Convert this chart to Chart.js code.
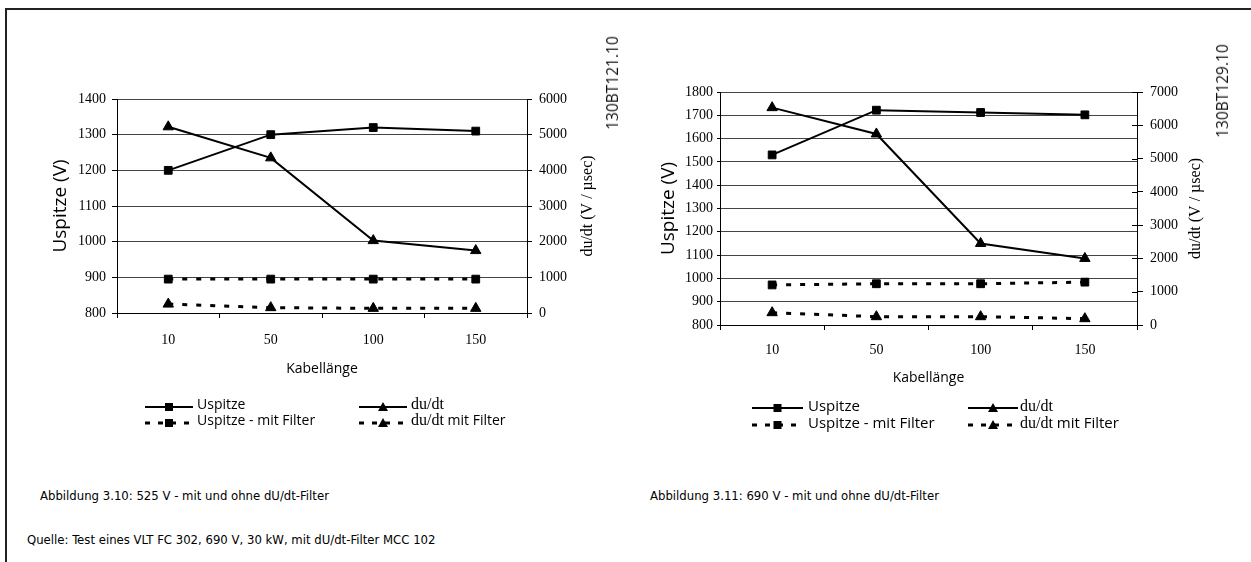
<!DOCTYPE html>
<html>
<head>
<meta charset="utf-8">
<script src="https://cdn.jsdelivr.net/npm/chart.js@4.4.1/dist/chart.umd.min.js"></script>
<style>
    html, body { margin: 0; padding: 0; background: #fff; }
    #page { position: relative; width: 1251px; height: 562px; overflow: hidden; }
    #frame { position: absolute; left: 5px; top: 8px; right: 0; bottom: 0;
             border-left: 2px solid #222; border-top: 2px solid #222; }
    canvas { position: absolute; }
    .code { position: absolute; font-family: 'Open Sans'; font-size: 15.5px; color: #111;
            white-space: nowrap; transform: translate(-50%, -50%) rotate(-90deg); }
    .caption { position: absolute; font-family: 'DejaVu Sans Condensed', 'DejaVu Sans'; font-stretch: condensed;
               font-size: 13px; color: #000; white-space: nowrap; line-height: 15px; }
    .leg-sample { position: absolute; }
    .leg-text { position: absolute; white-space: nowrap; font-family: 'Open Sans'; font-size: 14px;
                line-height: 16px; color: #000; }
    .leg-text.big { font-size: 15px; }
    .leg-text .serif { font-family: 'Liberation Serif'; font-size: 16px; }
</style>
</head>
<body>
<div id="page">
    <div id="frame"></div>
    <canvas id="chart525" width="640" height="400" style="left:0;top:0"></canvas>
    <canvas id="chart690" width="611" height="400" style="left:640px;top:0"></canvas>
    <div class="code" style="left:612px;top:83px">130BT121.10</div>
    <div class="code" style="left:1222px;top:91px">130BT129.10</div>
    <div id="legends"></div>
    <div class="caption" style="left:40px;top:488px">Abbildung 3.10: 525 V - mit und ohne dU/dt-Filter</div>
    <div class="caption" style="left:650px;top:488px">Abbildung 3.11: 690 V - mit und ohne dU/dt-Filter</div>
    <div class="caption" style="left:27px;top:532px">Quelle: Test eines VLT FC 302, 690 V, 30 kW, mit dU/dt-Filter MCC 102</div>
</div>
<script>
// --- DATA ---
const cableLengths = ['10', '50', '100', '150'];
const seriesNames = ['Uspitze', 'du/dt', 'Uspitze - mit Filter', 'du/dt mit Filter'];

// 525 V
const uPeak525 = [1200, 1300, 1320, 1310];
const dudt525 = [5220, 4350, 2030, 1750];
const uPeakFilter525 = [895, 895, 895, 895];
const dudtFilter525 = [250, 150, 130, 130];

// 690 V
const uPeak690 = [1530, 1722, 1712, 1702];
const dudt690 = [6530, 5740, 2450, 2000];
const uPeakFilter690 = [972, 977, 977, 984];
const dudtFilter690 = [370, 250, 250, 190];

// axis tick labels
const voltTicks525 = [800, 900, 1000, 1100, 1200, 1300, 1400];
const slopeTicks525 = [0, 1000, 2000, 3000, 4000, 5000, 6000];
const voltTicks690 = [800, 900, 1000, 1100, 1200, 1300, 1400, 1500, 1600, 1700, 1800];
const slopeTicks690 = [0, 1000, 2000, 3000, 4000, 5000, 6000, 7000];

const voltTitle = 'Uspitze (V)';
const slopeTitle = 'du/dt (V / \u00b5sec)';
const xTitle = 'Kabellänge';

Chart.defaults.color = '#000';

// right axis title reads bottom-to-top, plus optional inner tick marks
const sideTitle = {
    id: 'sideTitle',
    afterDraw(chart, args, opts) {
        const s = chart.scales.y1;
        const a = chart.chartArea;
        const ctx = chart.ctx;
        ctx.save();
        if (opts.inner) {
            ctx.strokeStyle = '#000';
            ctx.lineWidth = 1;
            s.ticks.forEach((t, i) => {
                const y = Math.round(s.getPixelForTick(i)) + 0.5;
                ctx.beginPath();
                ctx.moveTo(a.right - opts.inner, y);
                ctx.lineTo(a.right, y);
                ctx.stroke();
            });
        }
        ctx.translate(a.right + opts.offset, (a.top + a.bottom) / 2);
        ctx.rotate(-Math.PI / 2);
        ctx.font = '16px "Liberation Serif"';
        ctx.textAlign = 'center';
        ctx.textBaseline = 'middle';
        ctx.fillStyle = '#000';
        ctx.fillText(opts.text, 0, 0);
        ctx.restore();
    }
};

function lineSet(label, data, axis, marker, dashed) {
    return {
        label: label,
        data: data,
        yAxisID: axis,
        borderColor: '#000',
        backgroundColor: '#000',
        borderWidth: dashed ? 3 : 2,
        borderDash: dashed ? [5, 9] : [],
        pointStyle: marker,
        pointRadius: marker === 'rect' ? 5.5 : 6,
        pointBorderWidth: 1,
        tension: 0
    };
}

function buildChart(id, o) {
    const serif14 = { family: 'Liberation Serif', size: 14 };
    return new Chart(document.getElementById(id), {
        type: 'line',
        data: {
            labels: cableLengths,
            datasets: [
                lineSet(seriesNames[0], o.uPeak, 'y', 'rect', false),
                lineSet(seriesNames[1], o.dudt, 'y1', 'triangle', false),
                lineSet(seriesNames[2], o.uPeakFilter, 'y', 'rect', true),
                lineSet(seriesNames[3], o.dudtFilter, 'y1', 'triangle', true)
            ]
        },
        options: {
            responsive: false,
            animation: false,
            events: [],
            layout: { padding: { top: o.top, left: 0, right: 0, bottom: 0 } },
            plugins: {
                legend: { display: false },
                tooltip: { enabled: false },
                sideTitle: { text: slopeTitle, offset: o.sideOffset, inner: o.inner }
            },
            scales: {
                x: {
                    offset: true,
                    afterFit: s => { s.height = o.xHeight; },
                    grid: { offset: true, drawOnChartArea: false, tickLength: 5, color: '#000' },
                    border: { color: '#000', width: 1 },
                    ticks: { font: serif14, padding: o.xPad, maxRotation: 0, autoSkip: false },
                    title: { display: true, text: xTitle, font: { family: 'Open Sans', size: 14 },
                             padding: { top: 0, bottom: o.xTitlePad } }
                },
                y: {
                    position: 'left',
                    min: o.voltTicks[0],
                    max: o.voltTicks[o.voltTicks.length - 1],
                    afterFit: s => { s.width = o.yWidth; },
                    afterBuildTicks: s => { s.ticks = o.voltTicks.map(v => ({ value: v })); },
                    grid: { color: '#444', tickColor: '#000', tickLength: o.yTick },
                    border: { color: '#000', width: 1 },
                    ticks: { font: serif14, padding: o.yPad, callback: v => String(v) },
                    title: { display: true, text: voltTitle, font: { family: 'Open Sans', size: 19 },
                             padding: { top: o.yTitlePad, bottom: 0 } }
                },
                y1: {
                    position: 'right',
                    min: o.slopeTicks[0],
                    max: o.slopeTicks[o.slopeTicks.length - 1],
                    afterFit: s => { s.width = o.y1Width; },
                    afterBuildTicks: s => { s.ticks = o.slopeTicks.map(v => ({ value: v })); },
                    grid: { drawOnChartArea: false, color: '#000', tickLength: o.y1Tick },
                    border: { color: '#000', width: 1 },
                    ticks: { font: serif14, padding: 7, callback: v => String(v) }
                }
            }
        },
        plugins: [sideTitle]
    });
}

buildChart('chart525', {
    uPeak: uPeak525, dudt: dudt525, uPeakFilter: uPeakFilter525, dudtFilter: dudtFilter525,
    voltTicks: voltTicks525, slopeTicks: slopeTicks525,
    top: 99, yWidth: 117, y1Width: 113, xHeight: 87,
    yTick: 5, yPad: 6, y1Tick: 5, xPad: 13.6, xTitlePad: 23, yTitlePad: 49,
    sideOffset: 61, inner: 0
});

buildChart('chart690', {
    uPeak: uPeak690, dudt: dudt690, uPeakFilter: uPeakFilter690, dudtFilter: dudtFilter690,
    voltTicks: voltTicks690, slopeTicks: slopeTicks690,
    top: 92, yWidth: 80, y1Width: 114, xHeight: 75,
    yTick: 3, yPad: 4, y1Tick: 6, xPad: 11.6, xTitlePad: 13.6, yTitlePad: 17,
    sideOffset: 59, inner: 5
});

// --- LEGENDS (HTML, two columns x two rows under each chart) ---
const legendLayouts = [
    { cols: [{ sx: 145, sw: 48, tx: 197 }, { sx: 359, sw: 48, tx: 411 }], rows: [405, 421], big: false },
    { cols: [{ sx: 752, sw: 51, tx: 808 }, { sx: 968, sw: 50, tx: 1020 }], rows: [406, 423], big: true }
];

function sampleSvg(w, marker, dashed) {
    const m = w / 2;
    const line = dashed
        ? `<line x1="0" y1="6" x2="${w}" y2="6" stroke="#000" stroke-width="3" stroke-dasharray="5,8"/>`
        : `<line x1="0" y1="6" x2="${w}" y2="6" stroke="#000" stroke-width="2"/>`;
    const mark = marker === 'rect'
        ? `<rect x="${m - 4}" y="2" width="8" height="8" fill="#000"/>`
        : `<polygon points="${m - 5},10 ${m + 5},10 ${m},1" fill="#000"/>`;
    return `<svg width="${w}" height="12">${line}${mark}</svg>`;
}

function labelHtml(name) {
    if (name.startsWith('du/dt')) {
        return '<span class="serif">du/dt</span>' + name.slice(5);
    }
    return name;
}

const legendsDiv = document.getElementById('legends');
legendLayouts.forEach(layout => {
    seriesNames.forEach((name, i) => {
        const col = layout.cols[i % 2];
        const y = layout.rows[Math.floor(i / 2)];
        const marker = i % 2 === 0 ? 'rect' : 'triangle';
        const dashed = i >= 2;
        legendsDiv.innerHTML +=
            `<div class="leg-sample" style="left:${col.sx}px;top:${y - 6}px">${sampleSvg(col.sw, marker, dashed)}</div>` +
            `<div class="leg-text${layout.big ? ' big' : ''}" style="left:${col.tx}px;top:${y - 9}px">${labelHtml(name)}</div>`;
    });
});
</script>
</body>
</html>
